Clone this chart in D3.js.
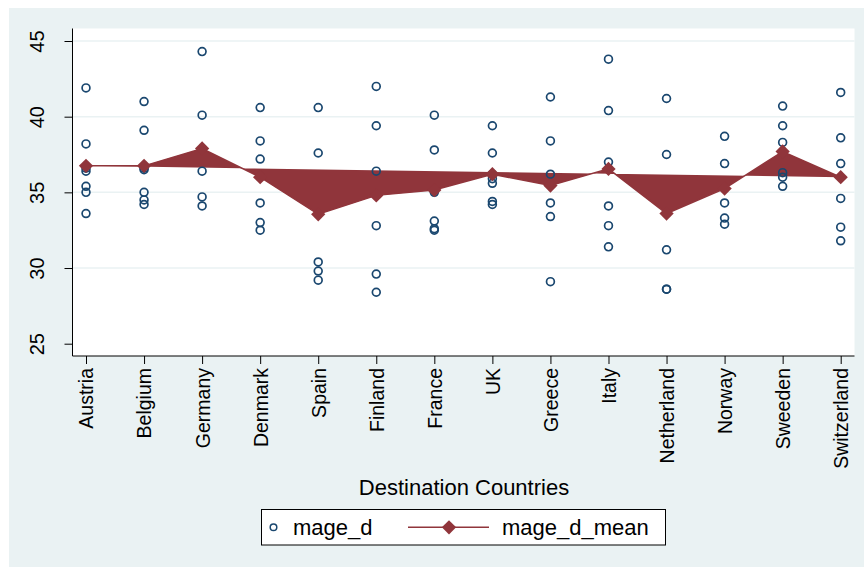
<!DOCTYPE html>
<html><head><meta charset="utf-8">
<script src="https://cdn.jsdelivr.net/npm/d3@7"></script>
<style>body{margin:0;background:#fff}svg{display:block}text{font-family:"Liberation Sans",Arial,sans-serif}</style>
</head><body>
<svg id="c" width="864" height="567"></svg>
<script>
const countries = ["Austria","Belgium","Germany","Denmark","Spain","Finland","France","UK","Greece","Italy","Netherland","Norway","Sweeden","Switzerland"];
const mageD = [
  [41.9,38.2,36.6,36.4,35.4,35.0,33.6],
  [41.0,39.1,36.6,36.5,35.0,34.5,34.2],
  [44.3,40.1,36.4,34.7,34.1],
  [40.6,38.4,37.2,34.3,33.0,32.5],
  [40.6,37.6,30.4,29.8,29.2],
  [42.0,39.4,36.4,32.8,29.6,28.4],
  [40.1,37.8,35.0,33.1,32.6,32.5],
  [39.4,37.6,36.2,35.9,35.6,34.4,34.2],
  [41.3,38.4,36.2,34.3,33.4,29.1],
  [43.8,40.4,37.0,34.1,32.8,31.4],
  [41.2,37.5,31.2,28.6,28.6],
  [38.7,36.9,34.3,33.3,32.9],
  [40.7,39.4,38.3,36.3,36.0,35.4],
  [41.6,38.6,36.9,34.6,32.7,31.8]
];
const mageDMean = [36.75,36.75,37.9,36.0,33.55,34.8,35.15,36.2,35.45,36.55,33.6,35.25,37.7,36.0];
const yTicks = [25,30,35,40,45];
const legendLabels = ["mage_d","mage_d_mean"];

const navy = "#1a476f", red = "#90353b", bg = "#eaf2f3";
const svg = d3.select("#c");
svg.append("rect").attr("x",9).attr("y",8).attr("width",855).attr("height",559).attr("fill",bg);
const L=72.5, R=854.5, T=28.5, B=356;
svg.append("rect").attr("x",L).attr("y",T).attr("width",R-L).attr("height",B-T).attr("fill","#fff");

const x = d3.scalePoint().domain(countries).range([86,840.7]);
const y = d3.scaleLinear().domain([25,45]).range([343.7,41]);

// grid
svg.append("g").selectAll("line").data(yTicks.filter(d=>d>25)).join("line")
  .attr("x1",L).attr("x2",R).attr("y1",d=>y(d)).attr("y2",d=>y(d))
  .attr("stroke",bg).attr("stroke-width",1.5);

// axes
const gy = svg.append("g").attr("transform",`translate(${L},0)`)
  .call(d3.axisLeft(y).tickValues(yTicks).tickSize(8).tickPadding(0));
gy.select(".domain").attr("d",`M0,${T}V${B}`).attr("stroke","#000");
gy.selectAll(".tick line").attr("stroke","#000");
gy.selectAll(".tick text").attr("x",null).attr("dy",null)
  .attr("text-anchor","middle").attr("font-size",20).attr("fill","#000")
  .attr("transform","translate(-36,0) rotate(-90)").attr("y",0).attr("dy","0.355em");

const gx = svg.append("g").attr("transform",`translate(0,${B})`)
  .call(d3.axisBottom(x).tickSize(8).tickPadding(0));
gx.select(".domain").attr("d",`M${L},0H${R}`).attr("stroke","#000");
gx.selectAll(".tick line").attr("stroke","#000");
gx.selectAll(".tick text").attr("y",null).attr("dy","0.355em")
  .attr("text-anchor","end").attr("font-size",19.5).attr("fill","#000")
  .attr("transform","translate(0,12) rotate(-90)");

svg.append("text").attr("x",464).attr("y",494.5).attr("text-anchor","middle")
  .attr("font-size",22).attr("fill","#000").text("Destination Countries");

// mean series (filled path, as drawn in reference)
const line = d3.line().x((d,i)=>x(countries[i])).y(d=>y(d));
svg.append("path").attr("d",line(mageDMean)).attr("fill",red).attr("stroke",red).attr("stroke-width",1.5);

// scatter
const pts = [];
mageD.forEach((arr,i)=>arr.forEach(v=>pts.push({c:countries[i],v})));
svg.append("g").selectAll("circle").data(pts).join("circle")
  .attr("cx",d=>x(d.c)).attr("cy",d=>y(d.v)).attr("r",3.9)
  .attr("fill","none").attr("stroke",navy).attr("stroke-width",1.7);

const diamond = d3.symbol().type(d3.symbolDiamond2).size(130);
svg.append("g").selectAll("path").data(mageDMean).join("path")
  .attr("d",diamond).attr("transform",(d,i)=>`translate(${x(countries[i])},${y(d)})`).attr("fill",red);

// legend
const lg = svg.append("g");
lg.append("rect").attr("x",261.5).attr("y",509.5).attr("width",404).attr("height",35.5).attr("fill","#fff").attr("stroke","#000");
lg.append("circle").attr("cx",273.5).attr("cy",527.3).attr("r",3.3).attr("fill","none").attr("stroke",navy).attr("stroke-width",1.5);
lg.append("text").attr("x",293).attr("y",527.3).attr("dy","0.355em").attr("font-size",22).text(legendLabels[0]);
lg.append("line").attr("x1",408).attr("x2",489).attr("y1",527.3).attr("y2",527.3).attr("stroke",red).attr("stroke-width",1.5);
lg.append("path").attr("d",diamond).attr("transform","translate(449,527.3)").attr("fill",red);
lg.append("text").attr("x",502).attr("y",527.3).attr("dy","0.355em").attr("font-size",22).text(legendLabels[1]);
</script>
</body></html>
